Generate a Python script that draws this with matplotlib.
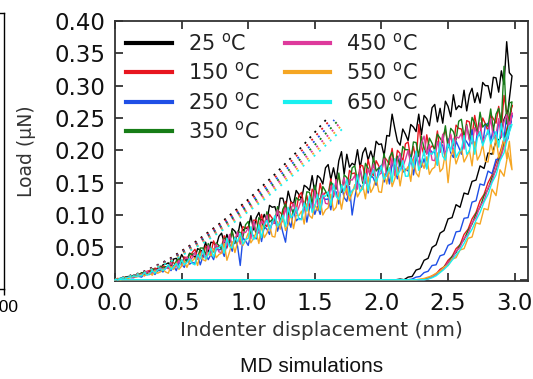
import numpy as np
import matplotlib
matplotlib.use('Agg')
import matplotlib.pyplot as plt

# ---------------- data ----------------
temps = ['25', '150', '250', '350', '450', '550', '650']
colors = ['#000000', '#e8161f', '#1f4fe6', '#177d17', '#de3a9c', '#f5a623', '#19f0f0']

# loading branch: indenter displacement (nm), sampled every 0.02 nm from 0.00 to 2.96
disp_load = np.round(np.arange(149) * 0.02, 2)

# loads in nN (converted to uN when drawn), one row = 0.2 nm
load_25 = [0, 0, 2, 2, 4, 5, 5, 7, 7, 8,
           8, 13, 9, 14, 17, 15, 18, 17, 23, 24,
           26, 20, 32, 33, 27, 39, 32, 31, 41, 39,
           34, 48, 46, 43, 58, 42, 58, 57, 52, 67,
           72, 57, 70, 57, 79, 75, 67, 89, 76, 80,
           79, 99, 77, 96, 104, 89, 101, 90, 115, 112,
           113, 99, 126, 126, 110, 137, 121, 117, 138, 132,
           124, 146, 143, 138, 161, 134, 161, 157, 148, 173,
           178, 155, 173, 153, 184, 198, 163, 194, 174, 180,
           177, 201, 173, 196, 204, 185, 199, 185, 214, 209,
           210, 192, 223, 222, 256, 234, 214, 208, 233, 225,
           215, 240, 236, 229, 256, 224, 254, 249, 238, 266,
           271, 244, 265, 242, 276, 268, 252, 286, 263, 269,
           266, 293, 261, 286, 296, 274, 289, 273, 305, 300,
           300, 281, 313, 312, 290, 323, 302, 368, 320]
load_150 = [0, 2, 1, 3, 4, 3, 5, 5, 7, 8,
            9, 7, 13, 14, 12, 18, 16, 15, 21, 20,
            17, 27, 26, 24, 34, 24, 35, 34, 31, 42,
            47, 34, 45, 34, 52, 49, 42, 60, 49, 52,
            51, 68, 49, 66, 73, 60, 70, 62, 82, 80,
            82, 68, 92, 92, 77, 101, 86, 82, 101, 95,
            87, 107, 104, 99, 121, 95, 120, 116, 107, 130,
            135, 113, 130, 111, 140, 133, 120, 149, 130, 135,
            132, 156, 128, 151, 159, 140, 154, 140, 169, 164,
            165, 148, 177, 176, 157, 186, 167, 161, 184, 176,
            166, 190, 185, 178, 203, 171, 200, 195, 183, 210,
            213, 187, 206, 184, 240, 207, 192, 224, 202, 207,
            203, 230, 197, 222, 231, 209, 223, 207, 239, 234,
            233, 213, 246, 244, 222, 254, 232, 225, 250, 241,
            230, 255, 249, 242, 268, 234, 285, 259, 246]
load_250 = [0, 0, 2, 2, 2, 4, 3, 3, 5, 5,
            4, 9, 8, 8, 13, 8, 14, 14, 12, 18,
            22, 14, 21, 14, 26, 24, 19, 31, 24, 27,
            25, 39, 23, 36, 41, 31, 39, 31, 48, 46,
            47, 36, 57, 56, 44, 65, 52, 22, 65, 60,
            53, 71, 68, 63, 83, 59, 82, 78, 70, 91,
            95, 75, 90, 73, 58, 93, 81, 108, 91, 95,
            93, 116, 89, 111, 119, 101, 114, 101, 128, 124,
            125, 108, 137, 136, 117, 146, 127, 121, 144, 100,
            127, 150, 146, 140, 164, 134, 162, 157, 146, 172,
            177, 151, 170, 148, 180, 171, 156, 188, 166, 171,
            168, 193, 162, 186, 194, 174, 187, 172, 202, 197,
            197, 177, 210, 208, 186, 218, 196, 189, 214, 205,
            194, 219, 213, 206, 232, 198, 228, 223, 210, 239,
            242, 215, 234, 211, 245, 236, 219, 253, 230]
load_350 = [0, 1, 2, 2, 4, 3, 5, 6, 6, 8,
            11, 8, 12, 9, 16, 16, 14, 21, 18, 20,
            19, 29, 19, 29, 33, 26, 32, 28, 40, 39,
            41, 32, 49, 49, 39, 56, 46, 43, 57, 53,
            47, 64, 61, 58, 75, 56, 75, 73, 66, 85,
            90, 71, 86, 70, 96, 90, 79, 105, 89, 93,
            91, 113, 88, 109, 117, 101, 113, 101, 127, 123,
            125, 109, 136, 135, 118, 146, 128, 123, 144, 137,
            128, 151, 146, 140, 165, 135, 162, 158, 147, 173,
            176, 152, 170, 149, 180, 172, 158, 189, 168, 173,
            170, 195, 165, 189, 197, 177, 191, 175, 206, 201,
            201, 183, 213, 212, 191, 222, 202, 195, 219, 211,
            200, 225, 219, 212, 238, 204, 234, 229, 216, 245,
            248, 221, 240, 217, 251, 242, 225, 259, 236, 241,
            237, 264, 231, 256, 265, 243, 330, 241, 273]
load_450 = [0, 1, 1, 3, 2, 3, 5, 4, 6, 7,
            9, 6, 13, 10, 10, 15, 15, 19, 15, 18,
            18, 27, 18, 21, 30, 22, 31, 35, 29, 34,
            42, 32, 38, 44, 33, 53, 40, 46, 55, 43,
            42, 62, 53, 70, 52, 61, 74, 55, 73, 73,
            80, 63, 90, 75, 72, 91, 85, 100, 79, 86,
            89, 108, 86, 91, 111, 89, 109, 118, 102, 112,
            125, 108, 116, 125, 106, 138, 116, 124, 134, 118,
            117, 145, 131, 155, 127, 140, 158, 131, 155, 154,
            161, 140, 172, 153, 149, 171, 162, 179, 154, 162,
            165, 187, 160, 165, 188, 161, 185, 195, 174, 186,
            200, 179, 188, 198, 175, 211, 222, 194, 209, 185,
            184, 214, 198, 225, 194, 206, 225, 195, 221, 219,
            226, 202, 238, 216, 210, 235, 224, 243, 214, 222,
            226, 249, 219, 224, 249, 220, 245, 255, 233]
load_550 = [0, 1, 0, 1, 3, 2, 4, 5, 4, 6,
            8, 6, 8, 10, 7, 14, 10, 12, 16, 12,
            10, 21, 16, 26, 16, 21, 29, 19, 29, 29,
            34, 22, 41, 31, 29, 42, 37, 48, 34, 39,
            41, 56, 30, 43, 59, 42, 58, 65, 53, 61,
            72, 57, 64, 73, 56, 84, 65, 72, 84, 67,
            66, 90, 78, 99, 76, 86, 102, 79, 100, 99,
            106, 86, 117, 99, 95, 116, 107, 124, 100, 108,
            111, 132, 107, 112, 134, 109, 132, 141, 122, 134,
            147, 128, 136, 146, 125, 159, 135, 143, 158, 136,
            135, 164, 148, 173, 144, 156, 174, 145, 170, 168,
            175, 152, 186, 165, 159, 183, 172, 190, 163, 171,
            174, 196, 167, 172, 196, 150, 191, 201, 179, 191,
            204, 182, 190, 200, 176, 213, 185, 193, 209, 183,
            182, 212, 194, 220, 189, 200, 219, 188, 214]
load_650 = [0, 0, 2, 2, 2, 4, 4, 6, 5, 6,
            6, 11, 7, 9, 14, 10, 15, 17, 14, 17,
            23, 16, 20, 25, 18, 31, 23, 27, 33, 25,
            23, 39, 32, 46, 32, 39, 49, 35, 49, 49,
            55, 41, 64, 51, 49, 65, 59, 72, 55, 62,
            64, 82, 62, 66, 85, 65, 84, 92, 78, 87,
            99, 83, 89, 100, 82, 112, 96, 101, 112, 93,
            93, 119, 106, 129, 104, 115, 132, 107, 130, 129,
            136, 115, 148, 129, 124, 147, 137, 155, 130, 138,
            141, 162, 136, 141, 164, 138, 160, 170, 151, 162,
            176, 155, 163, 173, 151, 187, 161, 169, 184, 160,
            160, 189, 173, 199, 169, 181, 200, 171, 196, 194,
            201, 177, 213, 191, 185, 210, 199, 218, 189, 197,
            201, 223, 194, 199, 223, 194, 219, 229, 207, 219,
            232, 210, 219, 229, 205, 242, 214, 223, 238]

# unloading branch: displacement (nm) and loads (nN); afterwards the tip is back at 0
disp_unload = [2.98, 2.95, 2.92, 2.89, 2.86, 2.83, 2.80, 2.77, 2.74, 2.71,
               2.68, 2.65, 2.62, 2.59, 2.56, 2.53, 2.50, 2.47, 2.44, 2.41,
               2.38, 2.35, 2.32, 2.29, 2.26, 2.23, 2.20, 2.17, 2.14, 2.11]
unload_25 = [315, 262, 248, 218, 214, 194, 196, 172, 176, 154,
             152, 132, 134, 112, 116, 96, 94, 76, 72, 54,
             50, 33, 30, 17, 15, 5, 4, 0, 1, 0]
unload_150 = [270, 240, 218, 196, 180, 162, 150, 132, 122, 104,
              94, 78, 70, 54, 48, 36, 30, 20, 16, 9,
              6, 2, 1, 0]
unload_250 = [255, 218, 210, 186, 186, 164, 168, 146, 148, 122,
              120, 96, 95, 75, 74, 56, 53, 39, 37, 23,
              22, 13, 11, 5, 4, 1, 0]
unload_350 = [275, 236, 210, 192, 170, 158, 140, 130, 112, 102,
              86, 76, 62, 54, 42, 36, 26, 20, 13, 9,
              4, 2, 0]
unload_450 = [258, 226, 206, 186, 172, 152, 142, 122, 114, 96,
              88, 70, 64, 50, 44, 32, 27, 18, 14, 8,
              5, 1, 0]
unload_550 = [170, 196, 160, 170, 130, 140, 108, 110, 86, 88,
              66, 64, 48, 46, 34, 32, 22, 20, 13, 10,
              6, 4, 2, 1, 0]
unload_650 = [240, 222, 196, 184, 162, 150, 132, 120, 104, 92,
              78, 68, 56, 46, 38, 30, 22, 16, 11, 6,
              3, 1, 0]

# dotted fits: loads (nN) shared up to the last point
fit_load = [0, 11, 31, 58, 89, 124, 163, 205]
fit_end_load = [251, 249, 247, 245, 242, 240, 238]
fit_disp_25 = [0, 0.200, 0.400, 0.600, 0.800, 1.000, 1.200, 1.400, 1.600]
fit_disp_150 = [0, 0.204, 0.408, 0.612, 0.816, 1.020, 1.224, 1.428, 1.624]
fit_disp_250 = [0, 0.208, 0.416, 0.624, 0.832, 1.040, 1.248, 1.456, 1.646]
fit_disp_350 = [0, 0.212, 0.424, 0.636, 0.848, 1.060, 1.272, 1.484, 1.670]
fit_disp_450 = [0, 0.216, 0.432, 0.648, 0.864, 1.080, 1.296, 1.512, 1.687]
fit_disp_550 = [0, 0.220, 0.440, 0.660, 0.880, 1.100, 1.320, 1.540, 1.708]
fit_disp_650 = [0, 0.224, 0.448, 0.672, 0.896, 1.120, 1.344, 1.568, 1.730]

xticks = [0.0, 0.5, 1.0, 1.5, 2.0, 2.5, 3.0]
yticks = [0.00, 0.05, 0.10, 0.15, 0.20, 0.25, 0.30, 0.35, 0.40]

loads = [load_25, load_150, load_250, load_350, load_450, load_550, load_650]
unloads = [unload_25, unload_150, unload_250, unload_350, unload_450, unload_550, unload_650]
fit_disps = [fit_disp_25, fit_disp_150, fit_disp_250, fit_disp_350, fit_disp_450, fit_disp_550, fit_disp_650]

# ---------------- figure ----------------
W, H = 533, 379
fig = plt.figure(figsize=(W / 100, H / 100), dpi=100)

def fa(l, t, r, b):
    return [l / W, 1 - b / H, (r - l) / W, (b - t) / H]

# partial neighbouring panel on the left edge
ax0 = fig.add_axes(fa(-200, 13, 4, 289))
ax0.set_xlim(0, 100)
ax0.set_ylim(0, 1)
ax0.set_xticks([100])
ax0.set_xticklabels(['100'], family='Liberation Sans', fontsize=12.5)
ax0.set_yticks([])
ax0.tick_params(axis='x', direction='out', length=4, width=1, pad=4)
for s in ax0.spines.values():
    s.set_linewidth(1.0)

ax = fig.add_axes(fa(115, 21, 528, 281))

for i in range(7):
    n = len(unloads[i])
    x = list(disp_load) + disp_unload[:n] + [0.0]
    y = np.array(list(loads[i]) + unloads[i] + [0]) / 1000.0
    ax.plot(x, y, color=colors[i], lw=1.0, zorder=2.6, clip_on=False,
            label=temps[i] + r' $^{\mathrm{o}}$C')

for i in range(7):
    fy = np.array(fit_load + [fit_end_load[i]]) / 1000.0
    ax.plot(fit_disps[i], fy, color=colors[i], lw=1.3,
            linestyle=(0, (1.1, 3.0)), zorder=2.7, clip_on=False)

ax.set_xlim(0, 3.1)
ax.set_ylim(-0.002, 0.40)
ax.set_xticks(xticks)
ax.set_yticks(yticks)
ax.set_xticklabels([f'{v:.1f}' for v in xticks])
ax.set_yticklabels([f'{v:.2f}' for v in yticks])
ax.tick_params(axis='both', direction='in', length=6, width=1.2, labelsize=16.5,
               top=True, right=True, colors='#222222', labelcolor='#111111')
ax.tick_params(axis='x', pad=8)
ax.tick_params(axis='y', pad=7)
for s in ax.spines.values():
    s.set_color('#333333')
    s.set_linewidth(1.3)

ax.set_xlabel('Indenter displacement (nm)', fontsize=14.5, color='#333333', labelpad=4)
ax.set_ylabel('Load (\u03bcN)', fontsize=13.5, color='#333333', labelpad=13)

leg = ax.legend(loc='upper left', ncol=2, frameon=False, fontsize=15,
                handlelength=2.2, handletextpad=0.75, columnspacing=1.2,
                labelspacing=0.35, borderaxespad=0.35, borderpad=0.2)
for h in leg.get_lines():
    h.set_linewidth(3.0)
for t in leg.get_texts():
    t.set_color('#222222')

fig.text(312 / W, 1 - 366 / H, 'MD simulations', family='Liberation Sans',
         fontsize=15, ha='center', va='center', color='#111111')

fig.savefig('out.png', dpi=100)
